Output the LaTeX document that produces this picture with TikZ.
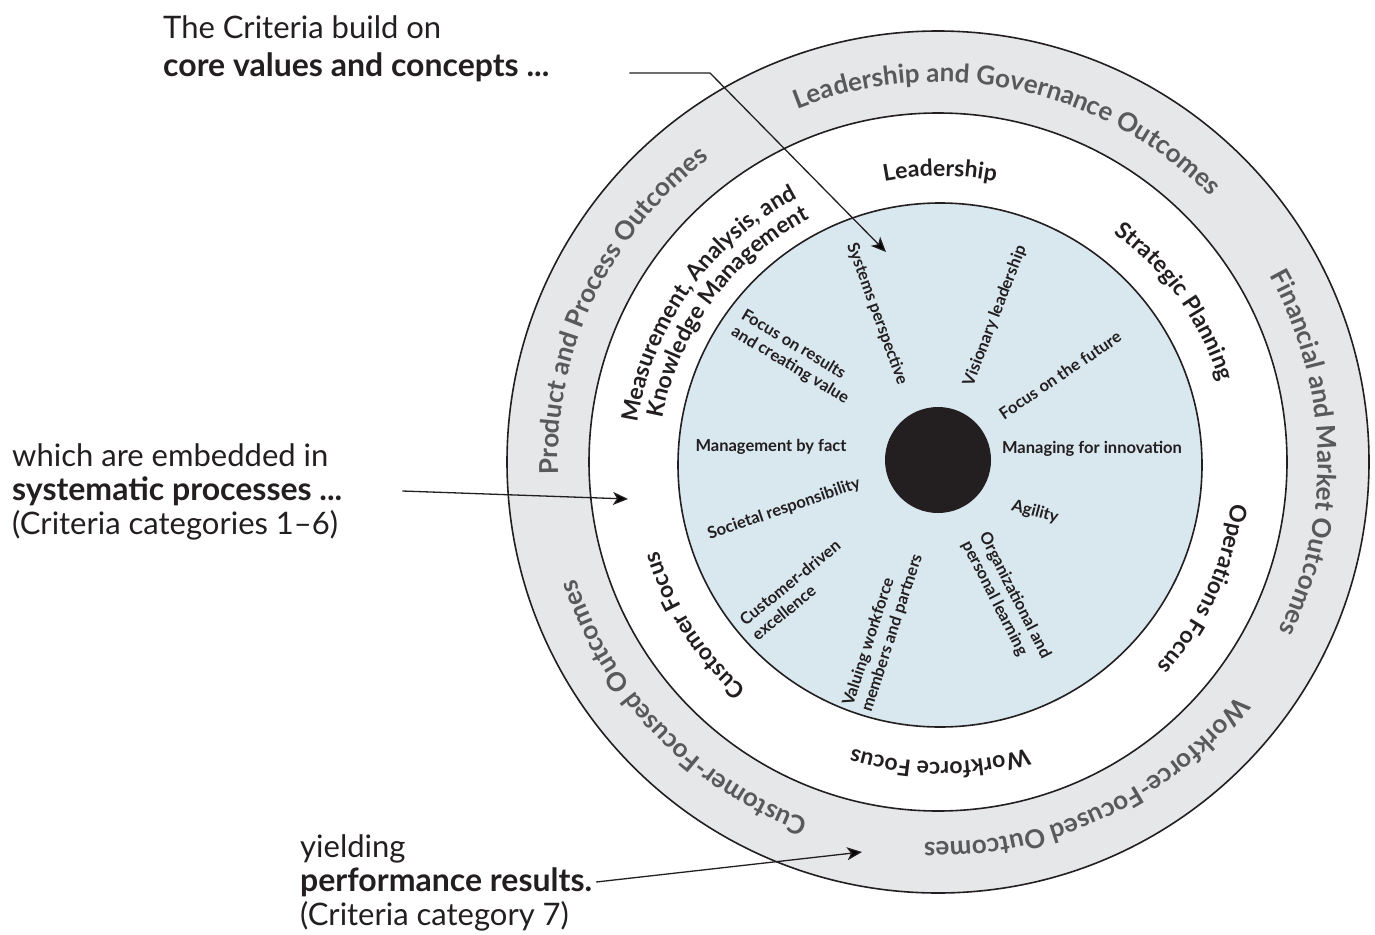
\documentclass[tikz,border=0pt]{standalone}
\usepackage{fontspec}
\setmainfont{Lato}
\usetikzlibrary{decorations.text,arrows.meta}
\definecolor{ringgray}{HTML}{E6E7E8}
\definecolor{innerblue}{HTML}{D9E7EF}
\definecolor{txtgray}{HTML}{58595B}
\definecolor{ink}{HTML}{231F20}
\newcommand\arctext[7]{\path[decorate,decoration={text along path,text align=center,text color=#6,text={|#4|#5}}] (#7) ++(#2+#3:#1) arc[start angle=#2+#3, end angle=#2-#3, radius=#1];}
\newcommand\outerfont{\fontsize{26}{26}\selectfont\bfseries}
\newcommand\midfont{\fontsize{23}{23}\selectfont\bfseries}
\begin{document}
\begin{tikzpicture}[x=1pt,y=1pt,
  ring/.style={circle, inner sep=0pt, outer sep=0pt, draw=ink, line width=1.6pt},
  core/.style={font=\fontsize{16.5}{19.5}\selectfont\bfseries, text=ink, inner sep=0pt},
  lefttext/.style={anchor=base west, inner sep=0pt, text=ink, font=\fontsize{31}{36}\selectfont},
  leftbold/.style={lefttext, font=\fontsize{32}{38}\selectfont\bfseries},
  arr/.style={draw=ink, line width=1.3pt, -{Stealth[length=15pt,width=13pt,inset=4pt]}}]
\useasboundingbox (0,0) rectangle (1375,-934);
\fill[white] (0,0) rectangle (1375,-934);
\coordinate (C) at (938,-462);
\coordinate (Cm) at (940,-469);
\node[ring, fill=ringgray, minimum size=862pt] (outer) at (C) {};
\node[ring, fill=white, minimum size=698pt] (mid) at (C) {};
\node[ring, fill=innerblue, minimum size=524pt] (inner) at (940,-465) {};
\node[circle, fill=ink, inner sep=0pt, minimum size=106pt] (dot) at (938,-460) {};
% outer ring texts
\arctext{380}{78}{80}{\outerfont}{Leadership and Governance Outcomes}{txtgray}{C}
\arctext{380}{1.5}{60}{\outerfont}{Financial and Market Outcomes}{txtgray}{C}
\arctext{380}{-65}{60}{\outerfont}{Workforce-Focused Outcomes}{txtgray}{C}
\arctext{380}{224}{60}{\outerfont}{Customer-Focused Outcomes}{txtgray}{C}
\arctext{380}{154.5}{60}{\outerfont}{Product and Process Outcomes}{txtgray}{C}
% middle ring texts
\arctext{293}{90}{40}{\midfont}{Leadership}{ink}{Cm}
\arctext{293}{35.5}{40}{\midfont}{Strategic Planning}{ink}{Cm}
\arctext{293}{-24.5}{40}{\midfont}{Operations Focus}{ink}{Cm}
\arctext{293}{-90}{40}{\midfont}{Workforce Focus}{ink}{Cm}
\arctext{293}{212.5}{40}{\midfont}{Customer Focus}{ink}{Cm}
\arctext{306}{144.5}{60}{\midfont}{Measurement, Analysis, and}{ink}{Cm}
\arctext{282}{143.5}{60}{\midfont}{Knowledge Management}{ink}{Cm}
% core values
\node[core, rotate=-70] (sp) at (877,-314) {Systems perspective};
\node[core, rotate=69] (vl) at (995,-316) {Visionary leadership};
\node[core, rotate=34] (ff) at (1060,-375) {Focus on the future};
\node[core] (mi) at (1092,-449) {Managing for innovation};
\node[core, rotate=-15] (ag) at (1035,-512) {Agility};
\node[core, rotate=-63, align=left] (ol) at (1006,-600) {Organizational and\\personal learning};
\node[core, rotate=72, align=left] (vw) at (883,-630) {Valuing workforce\\members and partners};
\node[core, rotate=39, align=left] (ce) at (796,-590) {Customer-driven\\excellence};
\node[core, rotate=19] (sr) at (784,-509) {Societal responsibility};
\node[core] (mf) at (771,-447) {Management by fact};
\node[core, rotate=-31, align=left] (fr) at (795,-357) {Focus on results\\and creating value};
% left texts
\node[lefttext] (t1) at (163,-38) {The Criteria build on};
\node[leftbold] (t2) at (163,-76) {core values and concepts ...};
\node[lefttext] (s1) at (12,-466) {which are embedded in};
\node[leftbold] (s2) at (12,-500) {systematic processes ...};
\node[lefttext] (s3) at (12,-534) {(Criteria categories 1–6)};
\node[lefttext] (y1) at (300,-857) {yielding};
\node[leftbold] (y2) at (300,-891) {performance results.};
\node[lefttext] (y3) at (300,-925) {(Criteria category 7)};
% arrows
\coordinate (a1b) at (710,-73);
\coordinate (a1e) at (886,-252);
\draw[arr] ([xshift=80pt,yshift=3pt]t2.base east) -- (a1b) -- (a1e);
\coordinate (a2e) at (628,-499);
\draw[arr] ([xshift=60pt,yshift=9pt]s2.base east) -- (a2e);
\coordinate (a3e) at (862,-852);
\draw[arr] ([xshift=4pt,yshift=9pt]y2.base east) -- (a3e);
\end{tikzpicture}
\end{document}
